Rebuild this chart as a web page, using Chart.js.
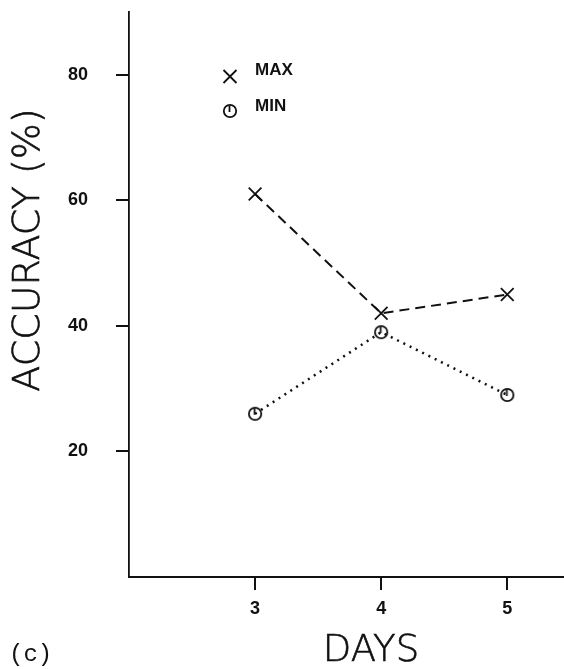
<!DOCTYPE html>
<html>
<head>
<meta charset="utf-8">
<script src="https://cdn.jsdelivr.net/npm/chart.js@4.4.1/dist/chart.umd.min.js"></script>
<style>
  html, body { margin: 0; padding: 0; background: #fff; overflow: hidden; }
  #wrap { width: 564px; height: 669px; position: relative; }
  #wrap canvas { display: block; }
</style>
</head>
<body>
<div id="wrap"><canvas id="accChart"></canvas></div>
<script>
// values
var days = [3, 4, 5];
var maxAcc = [61, 42, 45];
var minAcc = [26, 39, 29];
var yTicks = [20, 40, 60, 80];
var xTicks = [3, 4, 5];

var ink = "#111";

// circle with a little stroke inside, like the plotter's "o" marker
function makeMinMarker() {
  var c = document.createElement("canvas");
  c.width = 16; c.height = 16;
  var g = c.getContext("2d");
  g.strokeStyle = ink;
  g.lineWidth = 1.8;
  g.beginPath();
  g.arc(8, 8, 6.2, 0, Math.PI * 2);
  g.stroke();
  g.beginPath();
  g.moveTo(7.5, 2.5);
  g.lineTo(7.5, 9);
  g.stroke();
  return c;
}
var minMarker = makeMinMarker();

var textPlugin = {
  id: "figText",
  afterDraw: function (chart) {
    var ctx = chart.ctx;
    ctx.save();
    ctx.fillStyle = ink;
    ctx.strokeStyle = ink;

    // y axis title
    ctx.save();
    ctx.translate(29, 250);
    ctx.rotate(-Math.PI / 2);
    ctx.font = "200 38px 'DejaVu Sans'";
    ctx.textAlign = "center";
    ctx.textBaseline = "middle";
    ctx.lineWidth = 0.6;
    ctx.fillText("ACCURACY (%)", 0, 0);
    ctx.strokeText("ACCURACY (%)", 0, 0);
    ctx.restore();

    // x axis title
    ctx.font = "200 37px 'DejaVu Sans'";
    ctx.textAlign = "center";
    ctx.textBaseline = "middle";
    ctx.lineWidth = 0.6;
    ctx.fillText("DAYS", 371, 651);
    ctx.strokeText("DAYS", 371, 651);

    // panel tag
    ctx.font = "24px 'Liberation Mono'";
    ctx.textAlign = "left";
    ctx.fillText("(c)", 9, 655);

    // legend
    ctx.lineWidth = 1.8;
    ctx.beginPath();
    ctx.moveTo(223.5, 70); ctx.lineTo(236.5, 83);
    ctx.moveTo(236.5, 70); ctx.lineTo(223.5, 83);
    ctx.stroke();
    ctx.drawImage(minMarker, 222, 103);
    ctx.font = "bold 17px 'Liberation Sans'";
    ctx.fillText("MAX", 255, 70);
    ctx.fillText("MIN", 255, 106);
    ctx.restore();
  }
};

var chart = new Chart(document.getElementById("accChart"), {
  type: "line",
  data: {
    datasets: [
      {
        label: "MAX",
        data: days.map(function (d, i) { return { x: d, y: maxAcc[i] }; }),
        borderColor: ink,
        borderWidth: 2,
        borderDash: [10, 6],
        pointStyle: "crossRot",
        pointRadius: 9,
        pointBorderWidth: 1.8,
        pointBorderColor: ink,
        fill: false,
        tension: 0
      },
      {
        label: "MIN",
        data: days.map(function (d, i) { return { x: d, y: minAcc[i] }; }),
        borderColor: ink,
        borderWidth: 2.5,
        borderDash: [2, 5],
        pointStyle: minMarker,
        pointRadius: 7,
        fill: false,
        tension: 0
      }
    ]
  },
  options: {
    responsive: true,
    maintainAspectRatio: false,
    animation: false,
    layout: { autoPadding: false, padding: { top: 12, right: 0, left: 0, bottom: 0 } },
    plugins: {
      legend: { display: false },
      tooltip: { enabled: false }
    },
    scales: {
      x: {
        type: "linear",
        min: 2,
        max: 5.45,
        afterBuildTicks: function (scale) {
          scale.ticks = xTicks.map(function (v) { return { value: v }; });
        },
        afterFit: function (scale) {
          scale.height = 92;
          scale.paddingLeft = 0;
          scale.paddingRight = 0;
        },
        border: { display: true, color: ink, width: 2 },
        grid: { display: true, drawOnChartArea: false, drawTicks: true, tickLength: 13, color: ink, lineWidth: 2 },
        ticks: { color: ink, padding: 8, font: { family: "'Liberation Sans'", size: 18, weight: "bold" }, maxRotation: 0 }
      },
      y: {
        type: "linear",
        min: 0,
        max: 90,
        afterBuildTicks: function (scale) {
          scale.ticks = yTicks.map(function (v) { return { value: v }; });
        },
        afterFit: function (scale) {
          scale.width = 129;
          scale.paddingTop = 0;
          scale.paddingBottom = 0;
        },
        border: { display: true, color: ink, width: 1.8 },
        grid: { display: true, drawOnChartArea: false, drawTicks: true, tickLength: 13, color: ink, lineWidth: 2 },
        ticks: { color: ink, padding: 28, font: { family: "'Liberation Sans'", size: 18, weight: "bold" } }
      }
    }
  },
  plugins: [textPlugin]
});
</script>
</body>
</html>
